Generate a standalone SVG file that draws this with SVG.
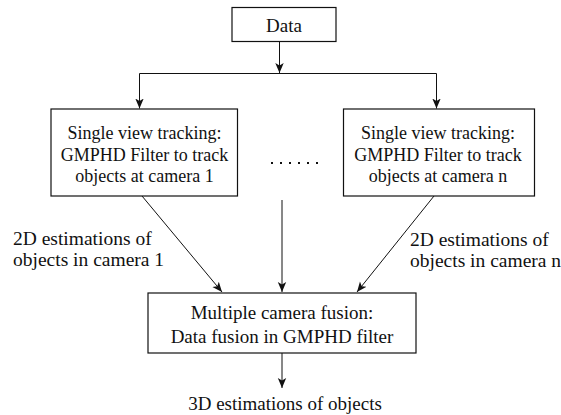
<svg xmlns="http://www.w3.org/2000/svg" width="561" height="415" viewBox="0 0 561 415">
<style>
.box{fill:#fff;stroke:#111;stroke-width:1.2}
.ln{fill:none;stroke:#111;stroke-width:1}
text{font-family:'Liberation Serif','DejaVu Serif',serif;fill:#111}
.bt{font-size:18px;text-anchor:middle}
.ft{font-size:19px;text-anchor:middle}
.lt{font-size:19.5px}
</style>
<defs>
<marker id="ah" markerUnits="userSpaceOnUse" markerWidth="10" markerHeight="10" viewBox="0 0 10 10" refX="10" refY="5" orient="auto">
<path d="M0,0.8 L10,5 L0,9.2 L2.5,5 z" fill="#111"/>
</marker>
</defs>
<rect width="561" height="415" fill="#fff"/>
<g id="connectors">
<line class="ln" x1="279.5" y1="42" x2="279.5" y2="73" marker-end="url(#ah)"/>
<line class="ln" x1="139.5" y1="73.5" x2="436.5" y2="73.5"/>
<line class="ln" x1="139.5" y1="73.5" x2="139.5" y2="108.5" marker-end="url(#ah)"/>
<line class="ln" x1="436.5" y1="73.5" x2="436.5" y2="108.5" marker-end="url(#ah)"/>
<line class="ln" x1="142" y1="196" x2="222" y2="292" marker-end="url(#ah)"/>
<line class="ln" x1="434" y1="196" x2="357" y2="292" marker-end="url(#ah)"/>
<line class="ln" x1="282" y1="200" x2="282" y2="292" marker-end="url(#ah)"/>
<line class="ln" x1="282" y1="353" x2="282" y2="388" marker-end="url(#ah)"/>
</g>
<g id="data">
<rect class="box" x="232" y="7.5" width="104" height="34"/>
<text class="ft" x="284" y="32" font-family="Liberation Serif, serif">Data</text>
</g>
<g id="single1">
<rect class="box" x="51" y="109" width="186.5" height="87"/>
<text class="bt" x="144.5" y="139" font-family="Liberation Serif, serif">Single view tracking:</text>
<text class="bt" x="144.5" y="160.5" font-family="Liberation Serif, serif">GMPHD Filter to track</text>
<text class="bt" x="144.5" y="181.5" font-family="Liberation Serif, serif">objects at camera 1</text>
</g>
<g id="dots">
<line x1="271" y1="163" x2="318" y2="163" stroke="#111" stroke-width="2" stroke-dasharray="2 7"/>
</g>
<g id="singlen">
<rect class="box" x="343.5" y="109" width="191" height="87"/>
<text class="bt" x="438" y="139" font-family="Liberation Serif, serif">Single view tracking:</text>
<text class="bt" x="438" y="160.5" font-family="Liberation Serif, serif">GMPHD Filter to track</text>
<text class="bt" x="438" y="181.5" font-family="Liberation Serif, serif">objects at camera n</text>
</g>
<g id="label1">
<text class="lt" x="13" y="245" font-family="Liberation Serif, serif">2D estimations of</text>
<text class="lt" x="13" y="266" font-family="Liberation Serif, serif">objects in camera 1</text>
</g>
<g id="labeln">
<text class="lt" x="410" y="246" font-family="Liberation Serif, serif">2D estimations of</text>
<text class="lt" x="410" y="267" font-family="Liberation Serif, serif">objects in camera n</text>
</g>
<g id="fusion">
<rect class="box" x="148" y="293" width="268" height="60"/>
<text class="ft" x="282" y="319" font-family="Liberation Serif, serif">Multiple camera fusion:</text>
<text class="ft" x="282" y="343" font-family="Liberation Serif, serif">Data fusion in GMPHD filter</text>
</g>
<g id="output">
<text class="ft" x="285" y="410" font-family="Liberation Serif, serif">3D estimations of objects</text>
</g>
</svg>
